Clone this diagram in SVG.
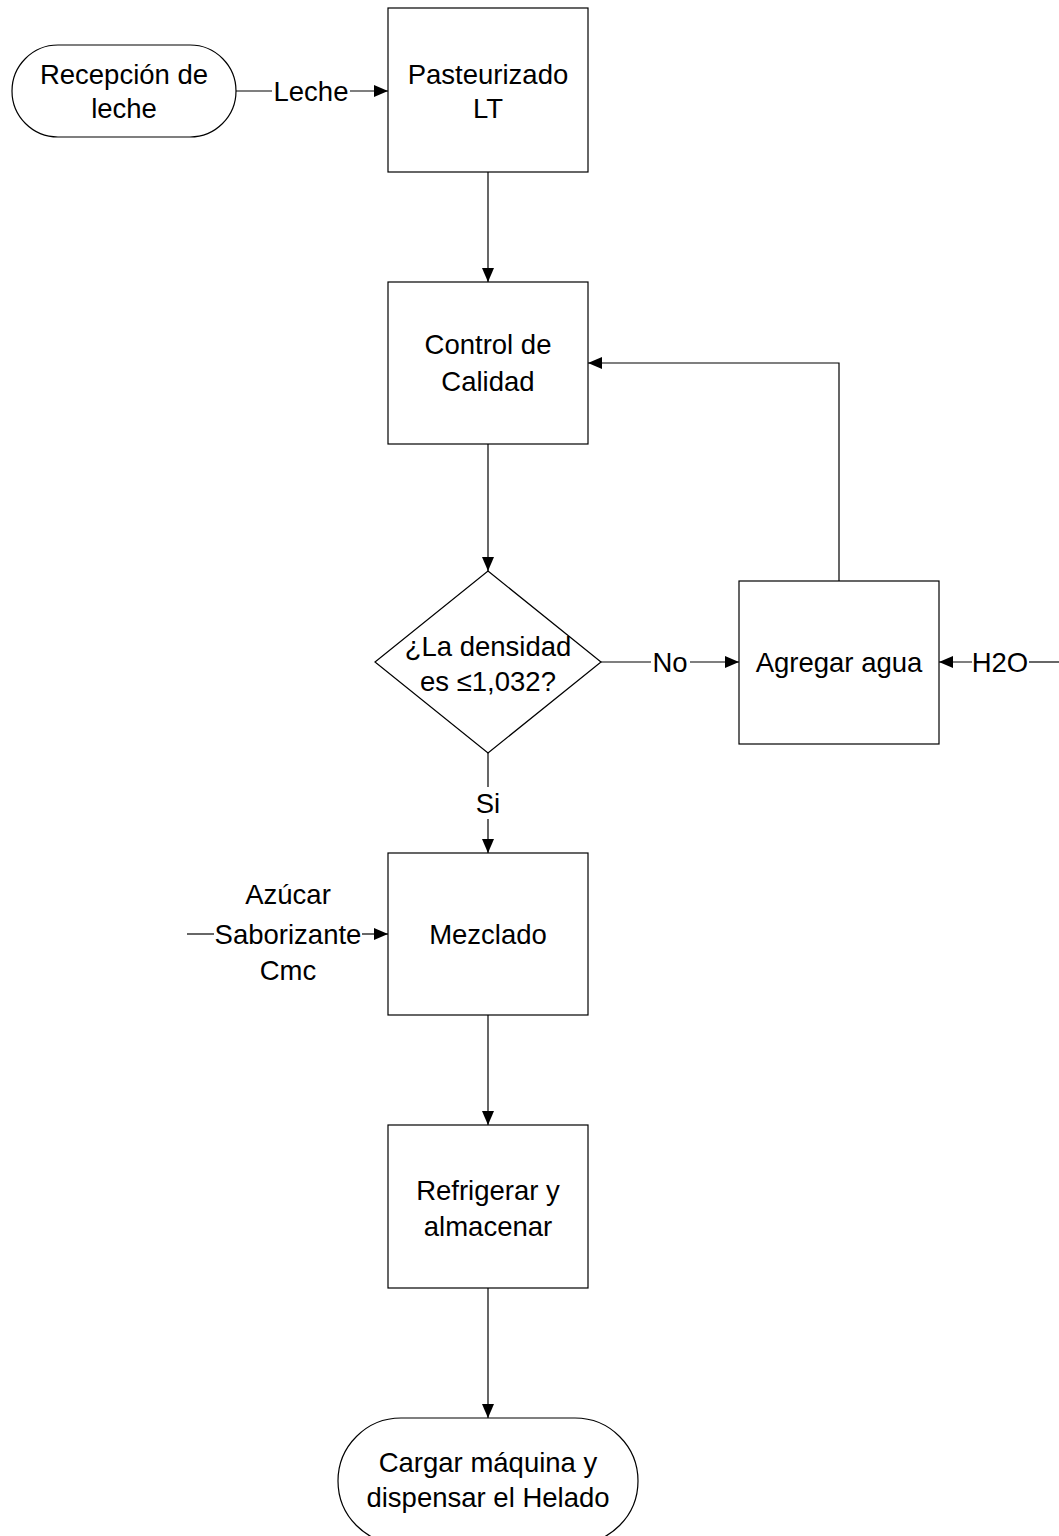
<svg xmlns="http://www.w3.org/2000/svg" width="1059" height="1536" viewBox="0 0 1059 1536">
<style>
.n{fill:#fff;stroke:#000;stroke-width:1.2}
.t{font-family:"Liberation Sans",Arial,sans-serif;font-size:27.5px;fill:#000;text-anchor:middle;dominant-baseline:central}
.c{fill:none;stroke:#000;stroke-width:1.2}
</style>
<defs>
<marker id="a" viewBox="0 0 14 12" refX="14" refY="6" markerWidth="14" markerHeight="12" markerUnits="userSpaceOnUse" orient="auto">
<path d="M0,0 L14,6 L0,12 Z" fill="#000"/>
</marker>
</defs>
<rect width="1059" height="1536" fill="#fff"/>
<g id="connectors">
<line class="c" x1="236" y1="91" x2="272" y2="91"/>
<line class="c" x1="350" y1="91" x2="388" y2="91" marker-end="url(#a)"/>
<text class="t" x="311" y="91">Leche</text>
<line class="c" x1="488" y1="172" x2="488" y2="282" marker-end="url(#a)"/>
<line class="c" x1="488" y1="444" x2="488" y2="571" marker-end="url(#a)"/>
<line class="c" x1="601" y1="662" x2="651" y2="662"/>
<line class="c" x1="690" y1="662" x2="739" y2="662" marker-end="url(#a)"/>
<text class="t" x="670" y="662">No</text>
<line class="c" x1="1059" y1="662" x2="1029" y2="662"/>
<line class="c" x1="972" y1="662" x2="939" y2="662" marker-end="url(#a)"/>
<text class="t" x="1000" y="662">H2O</text>
<polyline class="c" points="839,581 839,363 588,363" marker-end="url(#a)"/>
<line class="c" x1="488" y1="753" x2="488" y2="787"/>
<line class="c" x1="488" y1="819" x2="488" y2="853" marker-end="url(#a)"/>
<text class="t" x="488" y="803">Si</text>
<line class="c" x1="187" y1="934" x2="214" y2="934"/>
<line class="c" x1="362" y1="934" x2="388" y2="934" marker-end="url(#a)"/>
<text class="t" x="288" y="894">Azúcar</text>
<text class="t" x="288" y="934">Saborizante</text>
<text class="t" x="288" y="970">Cmc</text>
<line class="c" x1="488" y1="1015" x2="488" y2="1125" marker-end="url(#a)"/>
<line class="c" x1="488" y1="1288" x2="488" y2="1418" marker-end="url(#a)"/>
</g>
<g id="recepcion">
<rect class="n" x="12" y="45" width="224" height="92" rx="46"/>
<text class="t" x="124" y="74">Recepción de</text>
<text class="t" x="124" y="108">leche</text>
</g>
<g id="pasteurizado">
<rect class="n" x="388" y="8" width="200" height="164"/>
<text class="t" x="488" y="74">Pasteurizado</text>
<text class="t" x="488" y="108">LT</text>
</g>
<g id="control">
<rect class="n" x="388" y="282" width="200" height="162"/>
<text class="t" x="488" y="344">Control de</text>
<text class="t" x="488" y="381">Calidad</text>
</g>
<g id="decision">
<polygon class="n" points="488,571 601,662 488,753 375,662"/>
<text class="t" x="488" y="646">¿La densidad</text>
<text class="t" x="488" y="681">es ≤1,032?</text>
</g>
<g id="agregar">
<rect class="n" x="739" y="581" width="200" height="163"/>
<text class="t" x="839" y="662">Agregar agua</text>
</g>
<g id="mezclado">
<rect class="n" x="388" y="853" width="200" height="162"/>
<text class="t" x="488" y="934">Mezclado</text>
</g>
<g id="refrigerar">
<rect class="n" x="388" y="1125" width="200" height="163"/>
<text class="t" x="488" y="1190">Refrigerar y</text>
<text class="t" x="488" y="1226">almacenar</text>
</g>
<g id="cargar">
<rect class="n" x="338" y="1418" width="300" height="126" rx="63"/>
<text class="t" x="488" y="1462">Cargar máquina y</text>
<text class="t" x="488" y="1497">dispensar el Helado</text>
</g>
</svg>
